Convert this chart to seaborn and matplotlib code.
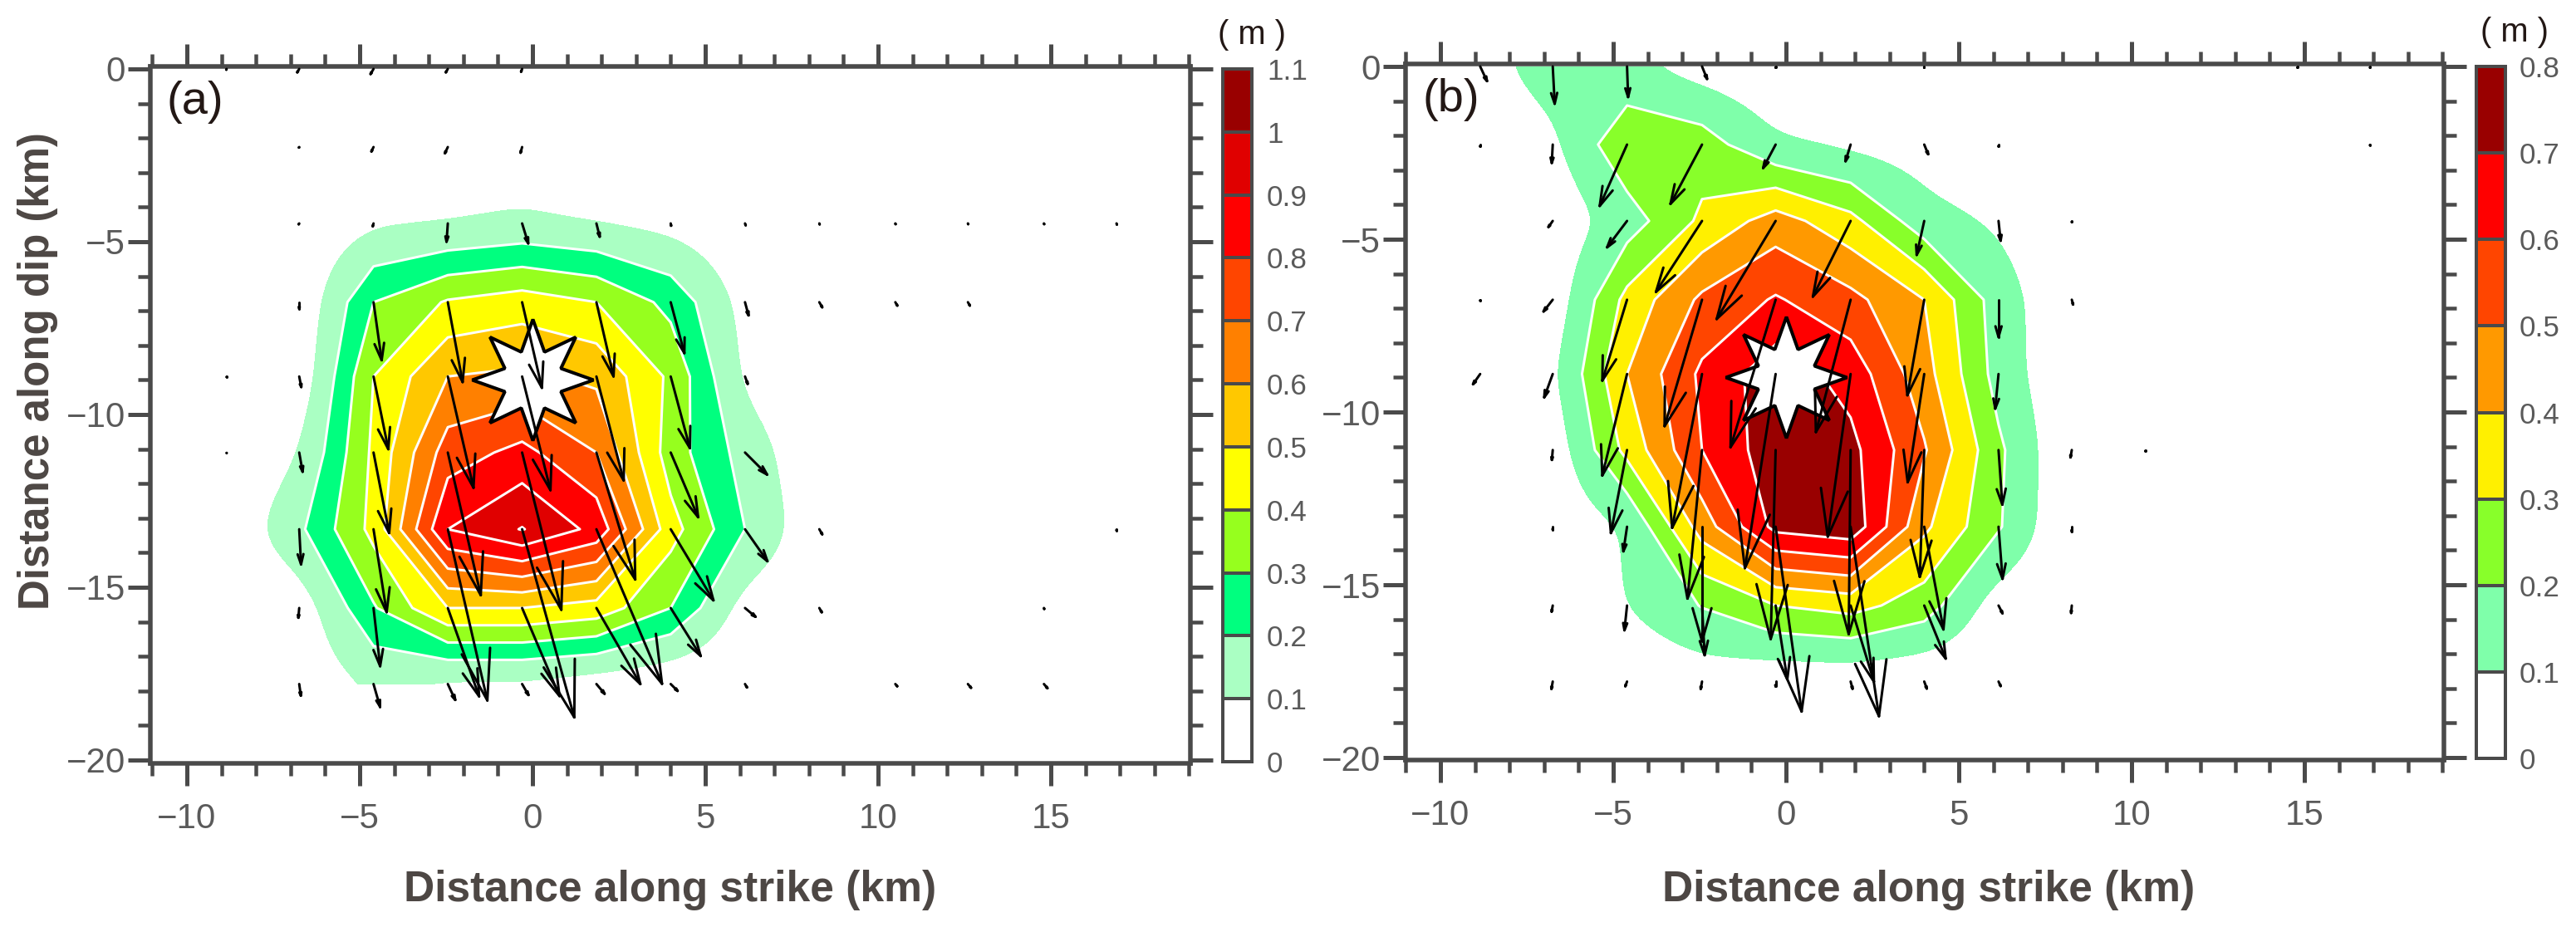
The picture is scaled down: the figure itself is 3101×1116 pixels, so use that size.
import numpy as np
import matplotlib
matplotlib.use("Agg")
import matplotlib.pyplot as plt
from matplotlib.collections import LineCollection
from matplotlib.colors import ListedColormap, BoundaryNorm
import seaborn as sns

# ---------- data ----------
x_nodes_a = [-8.85, -6.75, -4.6, -2.45, -0.3, 1.85, 4.0, 6.15, 8.3, 10.5, 12.6, 14.8, 16.9]
x_nodes_b = [-8.85, -6.75, -4.6, -2.43, -0.3, 1.87, 4.0, 6.15, 8.27, 10.4, 12.6, 14.8, 16.9]
y_nodes = [0.0, -2.26, -4.47, -6.75, -8.9, -11.1, -13.32, -15.6, -17.8]

slip_a = [
    [0, 0.02, 0.03, 0.02, 0.015, 0, 0, 0, 0, 0, 0, 0, 0],
    [0, 0.003, 0.025, 0.035, 0.03, 0, 0, 0, 0, 0, 0, 0, 0],
    [0, 0.005, 0.08, 0.09, 0.115, 0.09, 0.063, 0.01, 0.005, 0, 0, 0, 0],
    [0, 0.015, 0.30, 0.41, 0.45, 0.40, 0.27, 0.06, 0.01, 0, 0, 0, 0],
    [0, 0.02, 0.40, 0.60, 0.62, 0.58, 0.38, 0.07, 0, 0, 0, 0, 0],
    [0, 0.09, 0.42, 0.75, 0.83, 0.70, 0.35, 0.16, 0.01, 0, 0, 0, 0],
    [0.02, 0.18, 0.43, 0.90, 1.005, 0.87, 0.44, 0.20, 0.02, 0, 0, 0, 0],
    [0, 0.03, 0.29, 0.50, 0.50, 0.46, 0.30, 0.05, 0.01, 0, 0, 0, 0],
    [0, 0.02, 0.11, 0.06, 0.06, 0.03, 0.01, 0, 0, 0, 0, 0, 0],
]
arrow_a = [
    [0.004, 0.02, 0.03, 0.02, 0.015, 0, 0, 0, 0, 0, 0, 0, 0],
    [0, 0.003, 0.025, 0.035, 0.03, 0, 0, 0, 0, 0, 0, 0, 0],
    [0, 0.005, 0.015, 0.094, 0.107, 0.07, 0.012, 0.01, 0.005, 0.004, 0.004, 0.004, 0.006],
    [0, 0.034, 0.30, 0.416, 0.45, 0.39, 0.27, 0.07, 0.03, 0.02, 0.02, 0, 0],
    [0.003, 0.055, 0.38, 0.585, 0.60, 0.55, 0.38, 0.04, 0, 0, 0, 0, 0],
    [0.003, 0.10, 0.42, 0.75, 0.83, 0.68, 0.36, 0.16, 0, 0, 0, 0, 0],
    [0, 0.18, 0.43, 0.90, 1.00, 0.86, 0.425, 0.20, 0.03, 0, 0, 0, 0.006],
    [0, 0.05, 0.30, 0.48, 0.49, 0.45, 0.29, 0.07, 0.025, 0, 0, 0.005, 0],
    [0, 0.06, 0.12, 0.09, 0.065, 0.065, 0.05, 0.02, 0, 0.015, 0.025, 0.028, 0],
]
rake_a = [
    [-30, -30, -30, -30, -20, 0, 0, 0, 0, 0, 0, 0, 0],
    [0, -25, -25, -25, -15, 0, 0, 0, 0, 0, 0, 0, 0],
    [0, -30, -15, -4, 17, 14, 10, 20, 20, 20, 20, 20, 20],
    [0, 0, 8, 10.5, 13, 13, 15, 15, 30, 30, 30, 0, 0],
    [0, 11, 11.5, 13, 14, 14.7, 15, 20, 0, 0, 0, 0, 0],
    [0, 10, 11, 13, 14, 17, 23, 45, 0, 0, 0, 0, 0],
    [0, 3, 9, 13, 15.5, 23, 31, 35, 30, 0, 0, 0, 0],
    [0, -5, 6.5, 19.5, 23, 30, 32, 50, 30, 0, 0, 20, 0],
    [0, 8, 16, 25, 30, 40, 45, 30, 0, 40, 40, 40, 0],
]

slip_b = [
    [0.06, 0.15, 0.12, 0.05, 0.01, 0.01, 0, 0, 0, 0, 0, 0, 0],
    [0.01, 0.075, 0.28, 0.25, 0.11, 0.07, 0.04, 0.01, 0, 0, 0, 0, 0],
    [0, 0.02, 0.15, 0.32, 0.446, 0.33, 0.14, 0.08, 0.01, 0, 0, 0, 0],
    [0, 0.03, 0.33, 0.52, 0.61, 0.53, 0.40, 0.15, 0.01, 0, 0, 0, 0],
    [0, 0.07, 0.40, 0.62, 0.76, 0.66, 0.44, 0.16, 0, 0, 0, 0, 0],
    [0, 0.03, 0.33, 0.60, 0.76, 0.73, 0.51, 0.22, 0, 0, 0, 0, 0],
    [0, 0.01, 0.10, 0.445, 0.73, 0.77, 0.42, 0.21, 0, 0, 0, 0, 0],
    [0, 0.01, 0.10, 0.205, 0.30, 0.336, 0.25, 0.04, 0, 0, 0, 0, 0],
    [0, 0, 0.01, 0.04, 0.02, 0.02, 0.01, 0, 0, 0, 0, 0, 0],
]
arrow_b = [
    [0.065, 0.15, 0.123, 0.054, 0.005, 0, 0.005, 0, 0, 0, 0, 0.005, 0.005],
    [0.008, 0.074, 0.27, 0.27, 0.107, 0.07, 0.042, 0.008, 0, 0, 0, 0, 0.003],
    [0, 0.03, 0.133, 0.34, 0.46, 0.34, 0.14, 0.08, 0.005, 0, 0, 0, 0],
    [0.004, 0.06, 0.34, 0.53, 0.62, 0.55, 0.39, 0.15, 0.02, 0, 0, 0, 0],
    [0.05, 0.10, 0.42, 0.63, 0.79, 0.66, 0.44, 0.14, 0, 0, 0, 0, 0],
    [0, 0.04, 0.34, 0.60, 0.76, 0.74, 0.51, 0.22, 0.03, 0.005, 0, 0, 0],
    [0, 0.012, 0.10, 0.46, 0.75, 0.77, 0.42, 0.21, 0.02, 0, 0, 0, 0],
    [0, 0.025, 0.10, 0.20, 0.30, 0.32, 0.23, 0.035, 0.03, 0, 0, 0, 0],
    [0, 0.03, 0.02, 0.03, 0.02, 0.03, 0.03, 0.02, 0, 0, 0, 0, 0],
]
rake_b = [
    [25, 3, 2, 22, 0, 0, 0, 0, 0, 0, 0, 0, 0],
    [0, -3, -24, -28, -28, -17, 22, 0, 0, 0, 0, 0, 0],
    [0, -35, -37, -33, -31, -26.5, -12.5, 6, 0, 0, 0, 0, 0],
    [0, -38, -17, -16.5, -17, -14.7, -10, 0, 15, 0, 0, 0, 0],
    [-35, -20, -13.7, -11, -9, -8, -8.7, -5.5, 0, 0, 0, 0, 0],
    [0, -5, -11, -5.6, -1.5, -0.6, -2, 4, -10, 0, 0, 0, 0],
    [0, 0, -8.5, 0, 8, 8.5, 10.6, 4.4, 0, 0, 0, 0, 0],
    [0, -10, -6, 3, 9, 17, 22, 27, -5, 0, 0, 0, 0],
    [0, -10, -20, -10, 0, 15, 20, 25, 0, 0, 0, 0, 0],
]

levels_a = [0, 0.1, 0.2, 0.3, 0.4, 0.5, 0.6, 0.7, 0.8, 0.9, 1.0, 1.1]
labels_a = ["0", "0.1", "0.2", "0.3", "0.4", "0.5", "0.6", "0.7", "0.8", "0.9", "1", "1.1"]
colors_a = ["#FFFFFF", "#AAFFC3", "#00FF7F", "#96FF1E", "#FFFF00", "#FFC800",
            "#FF8000", "#FF4500", "#FF0000", "#E00000", "#990000"]
levels_b = [0, 0.1, 0.2, 0.3, 0.4, 0.5, 0.6, 0.7, 0.8]
labels_b = ["0", "0.1", "0.2", "0.3", "0.4", "0.5", "0.6", "0.7", "0.8"]
colors_b = ["#FFFFFF", "#7FFFAA", "#88FF2A", "#FFF000", "#FF9900", "#FF4500", "#FF0000", "#990000"]

x_ticks = [-10, -5, 0, 5, 10, 15]
y_ticks = [0, -5, -10, -15, -20]
hypocentre = (0.0, -9.0)

# ---------- style ----------
W, H, DPI = 3101, 1116, 100
PT = 72 / DPI  # points per pixel
sns.set_theme(style="white")
GREY = "#4a4a4a"
TICK_TXT = "#5a5a5a"
LABEL_TXT = "#4d4744"
DARK = "#231815"
NARROW = ["Liberation Sans Narrow", "Liberation Sans", "DejaVu Sans"]
SANS = ["Liberation Sans", "DejaVu Sans"]
plt.rcParams["font.family"] = SANS

fig = plt.figure(figsize=(W / DPI, H / DPI), dpi=DPI, facecolor="white")


def px_axes(x0, x1, y0, y1):
    return fig.add_axes([x0 / W, 1 - y1 / H, (x1 - x0) / W, (y1 - y0) / H])


def smooth_field(xs, Z, step=0.1, sigma=0.42):
    """Resample the slip table finely and blur it, for the soft outer edge of the 0.1 band."""
    ys = np.array(y_nodes)[::-1]
    Zr = np.array(Z, dtype=float)[::-1]
    fx = np.arange(xs[0], xs[-1] + step, step)
    fy = np.arange(ys[0], ys[-1] + step, step)
    A = np.array([np.interp(fx, xs, r) for r in Zr])
    A = np.array([np.interp(fy, ys, c) for c in A.T]).T
    half = int(3 * sigma / step)
    g = np.exp(-0.5 * (np.arange(-half, half + 1) * step / sigma) ** 2)
    g /= g.sum()
    pad = np.pad(A, half, mode="edge")
    pad = np.apply_along_axis(lambda m: np.convolve(m, g, mode="same"), 0, pad)
    pad = np.apply_along_axis(lambda m: np.convolve(m, g, mode="same"), 1, pad)
    return fx, fy, pad[half:-half, half:-half]


def draw_arrows(ax, xs, mag, rake, scale):
    segs = []
    for j, y in enumerate(y_nodes):
        for i, x in enumerate(xs):
            m = mag[j][i]
            if m <= 0:
                continue
            L = m * scale
            r = np.radians(rake[j][i])
            tip = np.array([x + L * np.sin(r), y - L * np.cos(r)])
            segs.append([(x, y), tuple(tip)])
            for sgn in (-1, 1):
                a = r + sgn * np.radians(16)
                barb = tip - 0.30 * L * np.array([np.sin(a), -np.cos(a)])
                segs.append([tuple(tip), tuple(barb)])
    ax.add_collection(LineCollection(segs, colors="black", linewidths=3.0 * PT,
                                     capstyle="round", zorder=6))


def panel(box, x0_px, y0_px, xs, slip, mag, rake, levels, colors, scale, tag):
    left, right, top, bottom = box
    ax = px_axes(left, right, top, bottom)
    k = 41.6
    ax.set_xlim((left - x0_px) / k, (right - x0_px) / k)
    ax.set_ylim((y0_px - bottom) / k, (y0_px - top) / k)
    X, Y = np.meshgrid(xs, y_nodes)
    Z = np.array(slip, dtype=float)
    cmap = ListedColormap(colors)
    norm = BoundaryNorm(levels, cmap.N)
    fx, fy, fz = smooth_field(xs, Z)
    ax.contourf(fx, fy, fz, levels=[levels[1], 5], colors=[colors[1]], zorder=1)
    ax.contourf(X, Y, Z, levels=levels[2:], cmap=ListedColormap(colors[2:]),
                norm=BoundaryNorm(levels[2:], cmap.N - 2), zorder=1.5)
    ax.contour(X, Y, Z, levels=levels[2:-1], colors="white", linewidths=3.0 * PT, zorder=2)
    ax.plot([hypocentre[0]], [hypocentre[1]], marker=(8, 1, 0), ms=146 * PT, mfc="white",
            mec="black", mew=4 * PT, ls="none", zorder=4)
    draw_arrows(ax, xs, mag, rake, scale)

    ax.set_xticks(x_ticks)
    ax.set_yticks(y_ticks)
    ax.set_xticks(np.arange(-11, 20), minor=True)
    ax.set_yticks(np.arange(-20, 1), minor=True)
    ax.set_xticklabels([str(v).replace("-", "\u2212") for v in x_ticks])
    ax.set_yticklabels([str(v).replace("-", "\u2212") for v in y_ticks])
    ax.tick_params(which="major", direction="out", length=27 * PT, width=5 * PT, color=GREY,
                   top=True, right=True, bottom=True, left=True, labelcolor=TICK_TXT,
                   labelsize=42 * PT, zorder=8)
    ax.tick_params(which="minor", direction="out", length=15 * PT, width=4.5 * PT, color=GREY,
                   top=True, right=True, bottom=True, left=True)
    ax.tick_params(axis="x", which="major", pad=20 * PT)
    ax.tick_params(axis="y", which="major", pad=3 * PT)
    for t in ax.get_xticklabels() + ax.get_yticklabels():
        t.set_family(NARROW)
    for s in ax.spines.values():
        s.set_visible(True)
        s.set_color(GREY)
        s.set_linewidth(5.5 * PT)
    fig.text((left + 20) / W, 1 - (top + 43) / H, tag, color=DARK, fontsize=56 * PT,
             ha="left", va="center", family=SANS)
    return ax


def colorbar(box, labels, colors, lab_x, unit_x, unit_y):
    left, right, top, bottom = box
    ax = px_axes(left, right, top, bottom)
    n = len(colors)
    sns.heatmap(np.arange(n)[::-1].reshape(-1, 1) + 0.5, ax=ax, cmap=ListedColormap(colors),
                vmin=0, vmax=n, cbar=False, xticklabels=False, yticklabels=False,
                linewidths=3.5 * PT, linecolor=GREY)
    for s in ax.spines.values():
        s.set_visible(True)
        s.set_color(GREY)
        s.set_linewidth(4 * PT)
    ax.yaxis.tick_right()
    ax.set_yticks(np.arange(n + 1))
    ax.set_yticklabels(labels[::-1], rotation=0, ha="left", color=TICK_TXT, fontsize=35 * PT)
    ax.tick_params(axis="y", length=0, pad=(lab_x - right) * PT)
    fig.text(unit_x / W, 1 - unit_y / H, "( m )", color=DARK,
             fontsize=40 * PT, ha="center", va="center")


panel((181, 1433, 80, 919), 641, 83, x_nodes_a, slip_a, arrow_a, rake_a, levels_a, colors_a, 5.65, "(a)")
colorbar((1472, 1507, 83, 917), labels_a, colors_a, 1525, 1507, 42)
panel((1692, 2942, 77, 915), 2150, 80, x_nodes_b, slip_b, arrow_b, rake_b, levels_b, colors_b, 7.2, "(b)")
colorbar((2981, 3016, 80, 913), labels_b, colors_b, 3033, 3027, 39)

for cx in (807, 2322):
    fig.text(cx / W, 1 - 1072 / H, "Distance along strike (km)", fontsize=51.5 * PT,
             fontweight="bold", color=LABEL_TXT, ha="center", va="center")
fig.text(46 / W, 1 - 447 / H, "Distance along dip (km)", fontsize=51 * PT, fontweight="bold",
         color=LABEL_TXT, ha="center", va="center", rotation=90)

fig.savefig("out.png", dpi=DPI, facecolor="white")
